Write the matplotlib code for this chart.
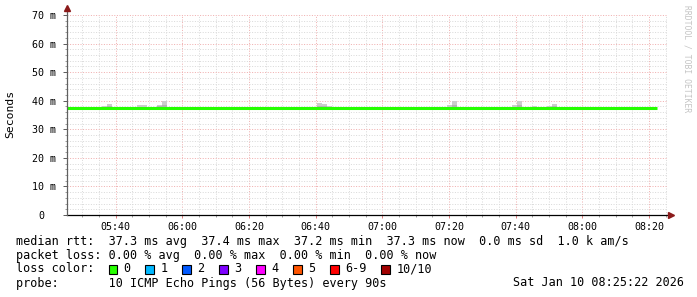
import matplotlib
matplotlib.use("Agg")
import matplotlib.pyplot as plt
import matplotlib.dates as mdates
import matplotlib.transforms as mtransforms
from matplotlib.ticker import MultipleLocator, FixedLocator, FixedFormatter
from matplotlib.lines import Line2D
from matplotlib.patches import Rectangle
from datetime import datetime, timedelta

# ---------------- data ----------------
start_time = datetime(2026, 1, 10, 5, 25, 22)
end_time = datetime(2026, 1, 10, 8, 25, 22)
step_seconds = 90

# median rtt per 90 s step (ms)
median_ms = [
    37.3, 37.3, 37.3, 37.3, 37.3, 37.3, 37.3, 37.3, 37.3, 37.3,
    37.3, 37.3, 37.3, 37.3, 37.3, 37.3, 37.3, 37.3, 37.3, 37.3,
    37.3, 37.3, 37.3, 37.3, 37.3, 37.3, 37.3, 37.3, 37.3, 37.3,
    37.3, 37.3, 37.3, 37.3, 37.3, 37.3, 37.3, 37.3, 37.3, 37.3,
    37.3, 37.3, 37.3, 37.3, 37.3, 37.3, 37.3, 37.3, 37.3, 37.3,
    37.3, 37.3, 37.3, 37.3, 37.3, 37.3, 37.3, 37.3, 37.3, 37.3,
    37.3, 37.3, 37.3, 37.3, 37.3, 37.3, 37.3, 37.3, 37.3, 37.3,
    37.3, 37.3, 37.3, 37.3, 37.3, 37.3, 37.3, 37.3, 37.3, 37.3,
    37.3, 37.3, 37.3, 37.3, 37.3, 37.3, 37.3, 37.3, 37.3, 37.3,
    37.3, 37.3, 37.3, 37.3, 37.3, 37.3, 37.3, 37.3, 37.3, 37.3,
    37.3, 37.3, 37.3, 37.3, 37.3, 37.3, 37.3, 37.3, 37.3, 37.3,
    37.3, 37.3, 37.3, 37.3, 37.3, 37.3, 37.3, 37.3,
]

# smoke (ping spread) visible above the median
smoke_step = [5, 7, 8, 14, 15, 18, 19, 20, 21, 45, 49, 50, 51, 52,
              76, 77, 78, 81, 89, 90, 92, 93, 96, 97, 102, 116]
smoke_top = [37.9, 38.3, 39.0, 38.6, 38.6, 38.6, 40.0, 37.9, 37.9, 37.9,
             37.9, 39.3, 39.0, 38.3, 38.6, 40.0, 37.9, 37.9, 38.6, 40.0,
             37.9, 38.3, 38.3, 39.0, 37.9, 37.9]
smoke_mid = [37.9, 37.9, 38.3, 37.9, 37.9, 38.3, 38.6, 37.9, 37.9, 37.9,
             37.9, 38.3, 38.3, 37.9, 37.9, 38.6, 37.9, 37.9, 37.9, 38.6,
             37.9, 37.9, 37.9, 38.3, 37.9, 37.9]

y_ticks = [0, 10, 20, 30, 40, 50, 60, 70]
y_tick_labels = ["0", "10 m", "20 m", "30 m", "40 m", "50 m", "60 m", "70 m"]

stats_lines = [
    "median rtt:  37.3 ms avg  37.4 ms max  37.2 ms min  37.3 ms now  0.0 ms sd  1.0 k am/s",
    "packet loss: 0.00 % avg  0.00 % max  0.00 % min  0.00 % now",
    "loss color:",
    "probe:       10 ICMP Echo Pings (56 Bytes) every 90s",
]
loss_labels = ["0", "1", "2", "3", "4", "5", "6-9", "10/10"]
loss_colors = ["#26ff00", "#00b8ff", "#0059ff", "#7e00ff", "#ff00ff",
               "#ff5500", "#ff0000", "#a10000"]
date_text = "Sat Jan 10 08:25:22 2026"
y_title = "Seconds"
watermark = "RRDTOOL / TOBI OETIKER"

# ---------------- figure ----------------
W, H, DPI = 697, 297, 100
MONO = "DejaVu Sans Mono"
fig = plt.figure(figsize=(W / DPI, H / DPI), dpi=DPI, facecolor="white")
ax = fig.add_axes([67 / W, 82 / H, 600 / W, 200 / H])
ax.set_facecolor("white")

step = timedelta(seconds=step_seconds)
width_days = step_seconds / 86400.0

# smoke
for s, top, mid in zip(smoke_step, smoke_top, smoke_mid):
    t = mdates.date2num(start_time + s * step)
    base = median_ms[s]
    ax.bar(t, top - base, bottom=base, width=width_days, align="edge",
           color="#cccccc", linewidth=0, zorder=2)
    if mid > base:
        ax.bar(t, mid - base, bottom=base, width=width_days, align="edge",
               color="#b4b4b4", linewidth=0, zorder=2.1)

# median line (steps)
times = [start_time + i * step for i in range(len(median_ms) + 1)]
vals = median_ms + [median_ms[-1]]
ax.plot(times, vals, drawstyle="steps-post", color="#26ff00", lw=2.2,
        solid_capstyle="butt", zorder=3)

ax.set_xlim(start_time, end_time)
ax.set_ylim(0, 70)

# grid
ax.xaxis.set_major_locator(mdates.MinuteLocator(byminute=[0, 20, 40]))
ax.xaxis.set_minor_locator(mdates.MinuteLocator(byminute=range(0, 60, 5)))
ax.xaxis.set_major_formatter(mdates.DateFormatter("%H:%M"))
ax.yaxis.set_major_locator(FixedLocator(y_ticks))
ax.yaxis.set_major_formatter(FixedFormatter(y_tick_labels))
ax.yaxis.set_minor_locator(MultipleLocator(2))

dot = (0, (1, 1.6))
ax.grid(which="minor", color="#dadada", linestyle=dot, lw=0.72, zorder=1)
ax.grid(which="major", color="#f0b0b0", linestyle=dot, lw=0.72, zorder=1.1)

for sp in ["top", "right", "left"]:
    ax.spines[sp].set_visible(False)
ax.spines["bottom"].set_color("black")
ax.spines["bottom"].set_linewidth(0.9)
ax.spines["bottom"].set_zorder(4)

ax.tick_params(axis="x", which="major", length=2.5, width=0.72,
               color="#e08080", pad=2.5, labelsize=7.2, labelcolor="black")
ax.tick_params(axis="x", which="minor", length=1.5, width=0.72, color="#a0a0a0")
ax.tick_params(axis="y", which="major", length=3, width=0.72,
               color="#606060", pad=5, labelsize=7.2, labelcolor="black")
ax.tick_params(axis="y", which="minor", length=1.5, width=0.72, color="#a0a0a0")
for lab in ax.get_xticklabels() + ax.get_yticklabels():
    lab.set_family(MONO)

# the "0" label sits in the column of the last digit, not at the unit
zero_lab = ax.yaxis.get_major_ticks()[0].label1
zero_lab.set_transform(zero_lab.get_transform() +
                       mtransforms.ScaledTranslation(-12 / DPI, 0, fig.dpi_scale_trans))

# left axis line with arrow
ax.add_line(Line2D([0, 0], [0, 1.03], transform=ax.transAxes, color="#606060",
                   lw=0.9, clip_on=False, zorder=5))
ax.plot([0], [1.035], marker="^", markersize=4.5, color="#8b1a1a",
        transform=ax.transAxes, clip_on=False, zorder=6)
ax.plot([1.006], [0], marker=">", markersize=4.5, color="#8b1a1a",
        transform=ax.transAxes, clip_on=False, zorder=6)

# y title
fig.text(10 / W, 1 - 114 / H, y_title, rotation=90, ha="center", va="center",
         family=MONO, fontsize=8.2, color="black")

# watermark
fig.text(687 / W, 1 - 5 / H, watermark, rotation=270, ha="center", va="top",
         family=MONO, fontsize=5.8, color="#c4c4c4")

# stats text
row_y = [241, 255, 269, 283]
for txt, yy in zip(stats_lines, row_y):
    fig.text(16 / W, 1 - yy / H, txt, ha="left", va="center", family=MONO,
             fontsize=8.5, color="black")
fig.text(513 / W, 1 - 283 / H, date_text, ha="left", va="center", family=MONO,
         fontsize=8.5, color="black")

# loss color legend
char_w = 7.12
bx = 108.5
for lab, col in zip(loss_labels, loss_colors):
    fig.patches.append(Rectangle((bx / W, 1 - 273.5 / H), 8.5 / W, 8.5 / H,
                                 transform=fig.transFigure, facecolor=col,
                                 edgecolor="black", lw=0.8))
    fig.text((bx + 15) / W, 1 - 269 / H, lab, ha="left", va="center",
             family=MONO, fontsize=8.5, color="black")
    bx = bx + 15 + len(lab) * char_w + 14.8

fig.savefig("out.png", dpi=DPI, facecolor="white")
